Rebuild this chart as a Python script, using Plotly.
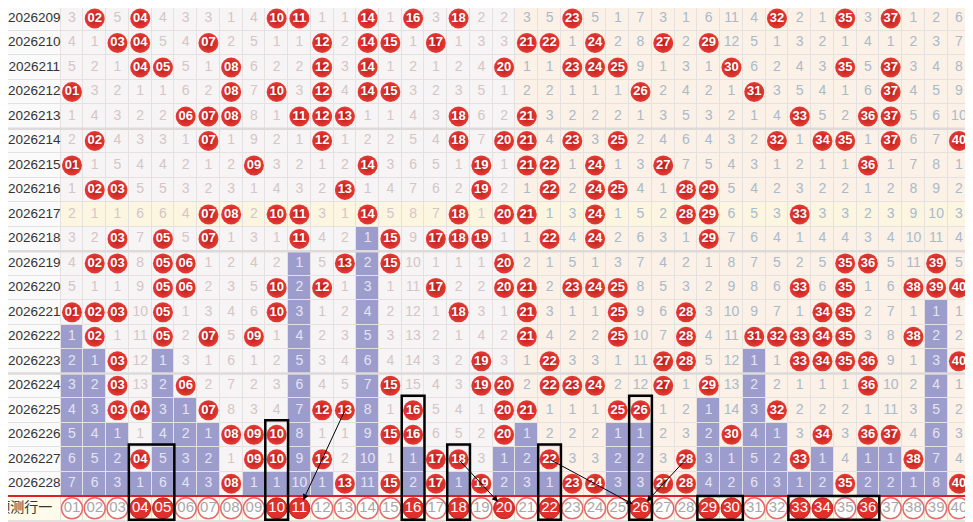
import plotly.graph_objects as go

# periods and drawn numbers (01-40)
periods = ['2026209', '2026210', '2026211', '2026212', '2026213', '2026214', '2026215',
           '2026216', '2026217', '2026218', '2026219', '2026220', '2026221', '2026222',
           '2026223', '2026224', '2026225', '2026226', '2026227', '2026228']
draws = [
    [2, 4, 10, 11, 14, 16, 18, 23, 32, 35, 37],
    [3, 4, 7, 12, 14, 15, 17, 21, 22, 24, 27, 29],
    [4, 5, 8, 12, 14, 20, 23, 24, 25, 30, 35, 37],
    [1, 8, 10, 12, 14, 15, 26, 31, 37],
    [6, 7, 8, 11, 12, 13, 18, 21, 33, 36, 37],
    [2, 7, 12, 18, 20, 21, 23, 25, 32, 34, 35, 37, 40],
    [1, 9, 14, 19, 21, 22, 24, 27, 36],
    [2, 3, 13, 19, 22, 24, 25, 28, 29],
    [7, 8, 10, 11, 14, 18, 20, 21, 24, 28, 29, 33],
    [3, 5, 7, 11, 15, 17, 18, 19, 22, 24, 29],
    [2, 3, 5, 6, 13, 15, 20, 35, 36, 39],
    [5, 6, 10, 12, 17, 20, 21, 23, 24, 25, 33, 35, 38, 39, 40],
    [1, 2, 3, 5, 10, 18, 21, 25, 28, 34, 35],
    [2, 5, 7, 9, 21, 25, 28, 31, 32, 33, 34, 35, 38],
    [3, 19, 22, 27, 28, 33, 34, 35, 36, 40],
    [3, 6, 15, 19, 20, 22, 23, 24, 27, 29, 36],
    [3, 4, 7, 12, 13, 16, 20, 21, 25, 26, 32],
    [8, 9, 10, 15, 16, 20, 30, 34, 36, 37],
    [4, 9, 10, 12, 17, 18, 22, 28, 33, 38],
    [8, 13, 15, 17, 19, 23, 24, 27, 28, 35, 40],
]
# omission shown in the first row (0 = drawn)
first_miss = [3, 0, 5, 0, 4, 3, 3, 1, 4, 0, 0, 1, 1, 0, 1, 0, 3, 0, 2, 2,
              3, 5, 0, 5, 1, 7, 3, 1, 6, 11, 4, 0, 2, 1, 0, 3, 0, 1, 2, 6]
pred_label = '预测行一'
pred_picks = [4, 5, 10, 11, 16, 18, 20, 22, 26, 29, 30, 33, 34, 36]
highlight_row = '2026217'
boxes = [(4, 5, '2026227'), (10, 10, '2026226'), (16, 16, '2026225'), (18, 18, '2026227'),
         (22, 22, '2026227'), (26, 26, '2026225'), (29, 30, None), (33, 36, None)]
arrows = [(13, '2026225', 11), (18, '2026227', 20), (22, '2026227', 26), (28, '2026227', 26)]

n_rows = len(periods)
cols = list(range(1, 41))

# omission table
miss = []
for i, hits in enumerate(draws):
    if i == 0:
        row = [0 if c in hits else first_miss[c - 1] for c in cols]
    else:
        row = [0 if c in hits else miss[-1][c - 1] + 1 for c in cols]
    miss.append(row)

# trailing omission streak per column -> purple cells
purple = set()
for c in cols:
    last = max([i for i in range(n_rows) if c in draws[i]], default=-1)
    for i in range(last + 1, n_rows):
        purple.add((i, c))

# background codes
bg_colors = ['#f7f4f5', '#fbf1e6', '#fcf6e1', '#9d9dcd', '#fffbea', '#fafafa']
z = []
for i in range(n_rows):
    zr = [5]
    for c in cols:
        if (i, c) in purple:
            zr.append(3)
        elif periods[i] == highlight_row:
            zr.append(2)
        else:
            zr.append(0 if c <= 20 else 1)
    z.append(zr)
z.append([4] * 41)
cscale = []
for k, col in enumerate(bg_colors):
    cscale.append([max(0, (k - 0.5) / 5), col])
    cscale.append([min(1, (k + 0.5) / 5), col])

# the page keeps an 8px body margin, so the figure is 8px smaller than the window
x_left = -1.814
x_right = 40.62
y_top = -0.429
x_edges = [x_left] + [c + 0.5 for c in range(0, 41)]
y_edges = [y_top] + [r + 0.5 for r in range(n_rows + 1)]

fig = go.Figure()
fig.add_trace(go.Heatmap(z=z, x=x_edges, y=y_edges, colorscale=cscale, zmin=0, zmax=5,
                         showscale=False, xgap=1, ygap=1, hoverinfo='skip'))

# omission numbers
groups = {'left': ([], [], []), 'right': ([], [], []), 'purple': ([], [], [])}
for i in range(n_rows):
    for c in cols:
        v = miss[i][c - 1]
        if v == 0:
            continue
        key = 'purple' if (i, c) in purple else ('left' if c <= 20 else 'right')
        groups[key][0].append(c)
        groups[key][1].append(i)
        groups[key][2].append(str(v))
txt_colors = {'left': '#d4c6c6', 'right': '#a9bacb', 'purple': '#e4e4f2'}
for key, (gx, gy, gt) in groups.items():
    fig.add_trace(go.Scatter(x=gx, y=gy, text=gt, mode='text', textposition='middle center',
                             textfont=dict(family='Liberation Sans, Arial', size=14, color=txt_colors[key]),
                             hoverinfo='skip'))

# drawn balls
bx, by, bt = [], [], []
for i, hits in enumerate(draws):
    for c in hits:
        bx.append(c)
        by.append(i)
        bt.append(f'{c:02d}')
fig.add_trace(go.Scatter(x=bx, y=by, text=bt, mode='markers+text', textposition='middle center',
                         marker=dict(size=20, color='#e63a34', line=dict(width=0),
                                     gradient=dict(type='radial', color='#b71d1b')),
                         textfont=dict(family='Liberation Sans, Arial', size=13, color='white',
                                       weight='bold'),
                         hoverinfo='skip'))

# prediction row
pr = n_rows
ox = [c for c in cols if c not in pred_picks]
fig.add_trace(go.Scatter(x=ox, y=[pr] * len(ox), text=[f'{c:02d}' for c in ox],
                         mode='markers+text', textposition='middle center',
                         marker=dict(size=21, color='white', line=dict(width=1.5, color='#e56b6b')),
                         textfont=dict(family='Liberation Sans, Arial', size=15, color='#a8a8a8'),
                         hoverinfo='skip'))
fig.add_trace(go.Scatter(x=pred_picks, y=[pr] * len(pred_picks), text=[f'{c:02d}' for c in pred_picks],
                         mode='markers+text', textposition='middle center',
                         marker=dict(size=21, color='#e0302b', line=dict(width=1, color='#c22020')),
                         textfont=dict(family='Liberation Sans, Arial', size=15, color='white'),
                         hoverinfo='skip'))

# row labels
fig.add_trace(go.Scatter(x=[-0.66] * n_rows, y=list(range(n_rows)), text=periods, mode='text',
                         textposition='middle center',
                         textfont=dict(family='Liberation Sans, Arial', size=13.5, color='#333333'),
                         hoverinfo='skip'))
fig.add_trace(go.Scatter(x=[-1.1], y=[pr], text=[pred_label], mode='text',
                         textposition='middle center', cliponaxis=False,
                         textfont=dict(family='Noto Sans CJK SC', size=14, color='#333333'),
                         hoverinfo='skip'))

# group separators and red line
for yb in [4.5, 9.5, 14.5]:
    fig.add_shape(type='line', x0=x_left, x1=40.5, y0=yb, y1=yb, line=dict(color='#dedada', width=2.5))
fig.add_shape(type='line', x0=x_left, x1=x_right, y0=n_rows - 0.5, y1=n_rows - 0.5,
              line=dict(color='#e02020', width=2))

# black boxes
for c0, c1, start in boxes:
    top = periods.index(start) - 0.6 if start else n_rows - 0.5
    fig.add_shape(type='rect', x0=c0 - 0.5, x1=c1 + 0.5, y0=top, y1=n_rows + 0.47,
                  line=dict(color='black', width=2.5), fillcolor='rgba(0,0,0,0)')

# arrows
for c_from, p_from, c_to in arrows:
    fig.add_annotation(x=c_to, y=pr, ax=c_from, ay=periods.index(p_from), xref='x', yref='y',
                       axref='x', ayref='y', text='', showarrow=True, arrowhead=2, arrowsize=1.2,
                       arrowwidth=1, arrowcolor='black', standoff=9)

fig.update_layout(width=965, height=514, margin=dict(l=0, r=0, t=0, b=0),
                  paper_bgcolor='white', plot_bgcolor='#e6e1e1', showlegend=False,
                  xaxis=dict(range=[x_left, x_right], visible=False, fixedrange=True),
                  yaxis=dict(range=[20.56, y_top], visible=False, fixedrange=True))
fig.write_html("out.html")
